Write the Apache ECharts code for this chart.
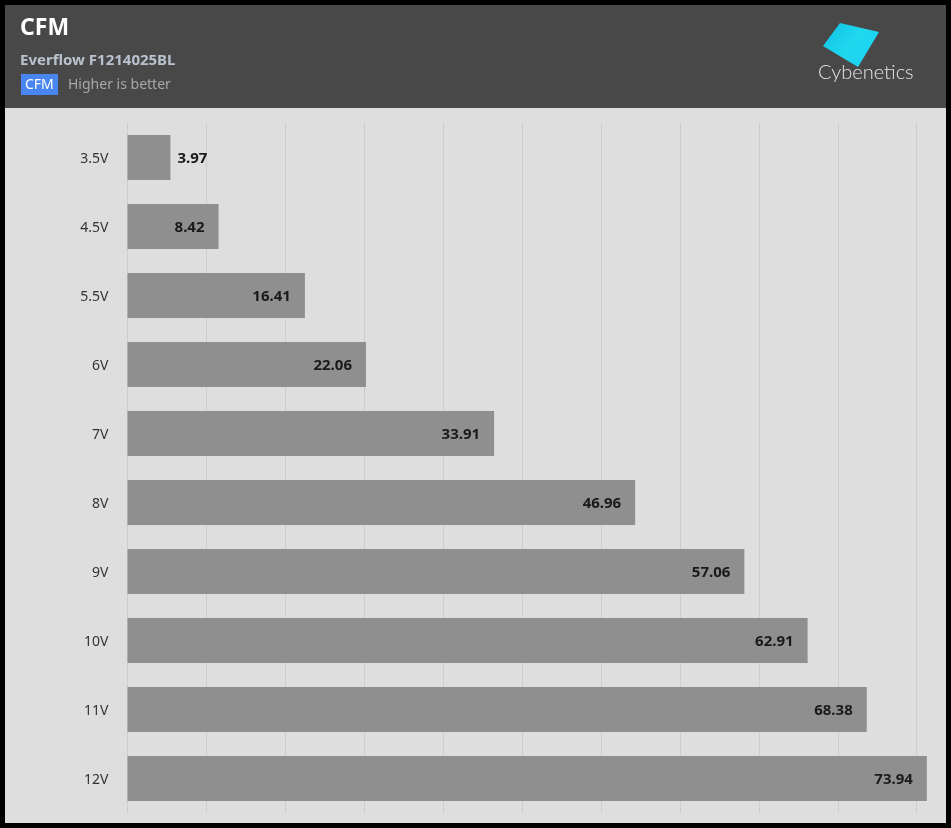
<!DOCTYPE html>
<html><head><meta charset="utf-8">
<script src="https://cdn.jsdelivr.net/npm/echarts@6/dist/echarts.min.js"></script>
<style>html,body{margin:0;padding:0;background:#000;}#c{width:951px;height:828px;}</style>
</head><body><div id="c"></div>
<script>
const categories = ['3.5V','4.5V','5.5V','6V','7V','8V','9V','10V','11V','12V'];
const cfmValues = [3.97, 8.42, 16.41, 22.06, 33.91, 46.96, 57.06, 62.91, 68.38, 73.94];
const chartTitle = 'CFM';
const chartSubtitle = 'Everflow F1214025BL';
const badgeText = 'CFM';
const noteText = 'Higher is better';
const logoText = 'Cybenetics';

const FONT = '"Noto Sans", "Open Sans", sans-serif';
const chart = echarts.init(document.getElementById('c'), null, {renderer:'canvas'});
const data = cfmValues.map(v => v < 6
  ? {value: v, label: {position: 'right', distance: 7}}
  : {value: v});

chart.setOption({
  backgroundColor: '#000',
  animation: false,
  graphic: [
    {type:'rect', z:-10, shape:{x:5,y:5,width:941,height:103}, style:{fill:'#484848'}},
    {type:'rect', z:-10, shape:{x:5,y:108,width:941,height:715}, style:{fill:'#dedede'}},
    {type:'text', left:20, top:17, style:{text:chartTitle, fill:'#ffffff', font:'bold 23px '+FONT}},
    {type:'text', left:20, top:53, style:{text:chartSubtitle, fill:'#b9c3cf', font:'bold 15px '+FONT}},
    {type:'rect', shape:{x:21,y:74,width:37,height:21}, style:{fill:'#4a86f2'}},
    {type:'text', left:25, top:78, style:{text:badgeText, fill:'#ffffff', font:'14px '+FONT}},
    {type:'text', left:68, top:78, style:{text:noteText, fill:'#a8a8a8', font:'14px '+FONT}},
    {type:'polygon', shape:{points:[[840,23],[879,32],[858,67],[823,46]]},
      style:{fill:new echarts.graphic.LinearGradient(0,0,1,1,[{offset:0,color:'#10c0e6'},{offset:0.5,color:'#20d8ee'},{offset:1,color:'#1ad0f4'}])}},
    {type:'text', left:818, top:63, style:{text:logoText, fill:'#e2e2e2', font:'300 20px Lato, '+FONT}}
  ],
  grid: {left:127.5, right:23.5, top:123, height:690, containLabel:false},
  xAxis: {
    type:'value', min:0, max:74, interval:7.3,
    axisLabel:{show:false}, axisLine:{show:false}, axisTick:{show:false},
    splitLine:{show:true, showMaxLine:false, lineStyle:{color:'#cdcdcd', width:1}}
  },
  yAxis: {
    type:'category', data:categories, inverse:true,
    axisLine:{show:false}, axisTick:{show:false},
    axisLabel:{margin:19, formatter: v => '{a|' + v + '}',
      rich:{a:{color:'#333', fontSize:14, fontFamily:FONT, padding:[4,0,0,0]}}}
  },
  series: [{
    type:'bar', data:data, barWidth:45,
    itemStyle:{color:'#8f8f8f'},
    label:{show:true, position:'insideRight', distance:14, color:'#1a1a1a',
      fontSize:15, fontWeight:'bold', fontFamily:FONT, offset:[0,1],
      formatter: p => p.value.toFixed(2)}
  }]
});
</script></body></html>
